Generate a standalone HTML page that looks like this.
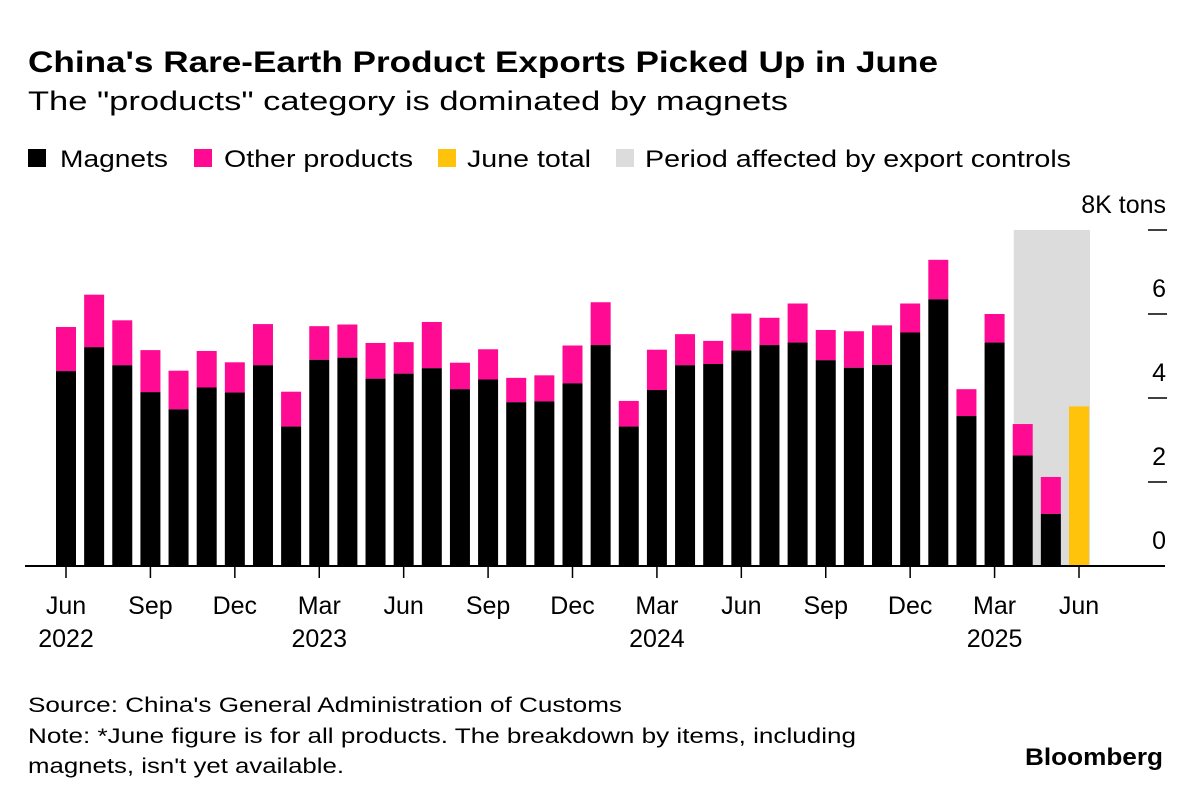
<!DOCTYPE html>
<html><head><meta charset="utf-8"><style>
html,body{margin:0;padding:0;background:#fff;}
svg{display:block;font-family:"Liberation Sans",Arial,sans-serif;}
</style></head><body>
<svg id="chart" width="1200" height="801" viewBox="0 0 1200 801" xmlns="http://www.w3.org/2000/svg">
<rect width="1200" height="801" fill="#fff"/>
<text x="28" y="72" font-size="30" font-weight="bold" fill="#000" textLength="910" lengthAdjust="spacingAndGlyphs">China's Rare-Earth Product Exports Picked Up in June</text>
<text x="28" y="110" font-size="27" fill="#000" textLength="760" lengthAdjust="spacingAndGlyphs">The "products" category is dominated by magnets</text>
<g font-size="24" fill="#000">
<g><rect x="28" y="149" width="18" height="18" fill="#000"/><text x="60" y="167" textLength="108" lengthAdjust="spacingAndGlyphs">Magnets</text></g>
<g><rect x="194" y="149" width="18" height="18" fill="#ff0a93"/><text x="224" y="167" textLength="189" lengthAdjust="spacingAndGlyphs">Other products</text></g>
<g><rect x="438" y="149" width="18" height="18" fill="#ffc30b"/><text x="467" y="167" textLength="124" lengthAdjust="spacingAndGlyphs">June total</text></g>
<g><rect x="616" y="149" width="18" height="18" fill="#dcdcdc"/><text x="645" y="167" textLength="426" lengthAdjust="spacingAndGlyphs">Period affected by export controls</text></g>
</g>
<g id="plot"></g>
<text x="28" y="712" font-size="21" fill="#000" textLength="594" lengthAdjust="spacingAndGlyphs">Source: China's General Administration of Customs</text>
<text x="28" y="743" font-size="21" fill="#000" textLength="828" lengthAdjust="spacingAndGlyphs">Note: *June figure is for all products. The breakdown by items, including</text>
<text x="28" y="773" font-size="21" fill="#000" textLength="316" lengthAdjust="spacingAndGlyphs">magnets, isn't yet available.</text>
<text x="1163" y="765" font-size="24" font-weight="bold" fill="#000" text-anchor="end" textLength="138" lengthAdjust="spacingAndGlyphs">Bloomberg</text>
</svg>
<script>
const months = ["Jun","Jul","Aug","Sep","Oct","Nov","Dec","Jan","Feb","Mar","Apr","May","Jun","Jul","Aug","Sep","Oct","Nov","Dec","Jan","Feb","Mar","Apr","May","Jun","Jul","Aug","Sep","Oct","Nov","Dec","Jan","Feb","Mar","Apr","May","Jun"];
const magnets = [4.64,5.21,4.78,4.14,3.73,4.25,4.13,4.78,3.32,4.91,4.96,4.46,4.58,4.71,4.21,4.44,3.90,3.92,4.35,5.26,3.32,4.19,4.78,4.81,5.13,5.26,5.32,4.90,4.72,4.79,5.56,6.35,3.57,5.32,2.63,1.24,null];
const totals = [5.69,6.46,5.85,5.14,4.65,5.12,4.85,5.76,4.15,5.71,5.75,5.31,5.33,5.81,4.84,5.16,4.48,4.54,5.25,6.28,3.93,5.15,5.52,5.36,6.01,5.91,6.25,5.62,5.59,5.73,6.25,7.29,4.21,6.00,3.38,2.12,3.80];
const yTicks = [0,2,4,6,8];
const yTickLabels = ["0","2","4","6","8K tons"];
const xTickIdx = [0,3,6,9,12,15,18,21,24,27,30,33,36];
const xTickLabels = ["Jun","Sep","Dec","Mar","Jun","Sep","Dec","Mar","Jun","Sep","Dec","Mar","Jun"];
const yearIdx = [0,9,21,33];
const yearLabels = ["2022","2023","2024","2025"];
const controlStart = 34, controlEnd = 36;

const NS="http://www.w3.org/2000/svg";
const plot=document.getElementById('plot');
const x0=66, step=(1079-66)/36, bw=20, y0=566, yk=42;
const xs=i=>x0+i*step;
const ys=v=>y0-v*yk;
function el(tag,attrs,parent){const e=document.createElementNS(NS,tag);for(const k in attrs)e.setAttribute(k,attrs[k]);(parent||plot).appendChild(e);return e;}

let band=el('rect',{x:xs(controlStart)-bw/2+1,y:ys(8),width:xs(controlEnd)-xs(controlStart)+bw,height:ys(0)-ys(8),fill:'#dcdcdc'});



months.forEach((m,i)=>{
  const cx=xs(i);
  if(magnets[i]===null){
    let r=el('rect',{x:cx-bw/2,y:ys(totals[i]),width:bw,height:ys(0)-ys(totals[i]),fill:'#ffc30b'});
    
    
  } else {
    let o=el('rect',{x:cx-bw/2,y:ys(totals[i]),width:bw,height:ys(magnets[i])-ys(totals[i]),fill:'#ff0a93'});
    
    
    let b=el('rect',{x:cx-bw/2,y:ys(magnets[i]),width:bw,height:ys(0)-ys(magnets[i]),fill:'#000'});
    
    
  }
});

let base=el('line',{x1:25,x2:1165,y1:y0,y2:y0,stroke:'#000','stroke-width':2});



xTickIdx.forEach((idx,k)=>{
  let t=el('line',{x1:xs(idx),x2:xs(idx),y1:y0,y2:y0+12,stroke:'#000','stroke-width':1.5});
  
  
  let tx=el('text',{x:xs(idx),y:614,'font-size':25,'text-anchor':'middle',fill:'#000'});
  tx.textContent=xTickLabels[k];
  
  
});
yearIdx.forEach((idx,k)=>{
  let tx=el('text',{x:xs(idx),y:647,'font-size':25,'text-anchor':'middle',fill:'#000'});
  tx.textContent=yearLabels[k];
  
  
});
yTicks.forEach((v,k)=>{
  if(v>0){
    let d=el('line',{x1:1148,x2:1167,y1:ys(v),y2:ys(v),stroke:'#000','stroke-width':1.5});
    
    
  }
  let tx=el('text',{x:1166,y:ys(v)-17,'font-size':25,'text-anchor':'end',fill:'#000'});
  tx.textContent=yTickLabels[k];
  
  
});
</script>
</body></html>
